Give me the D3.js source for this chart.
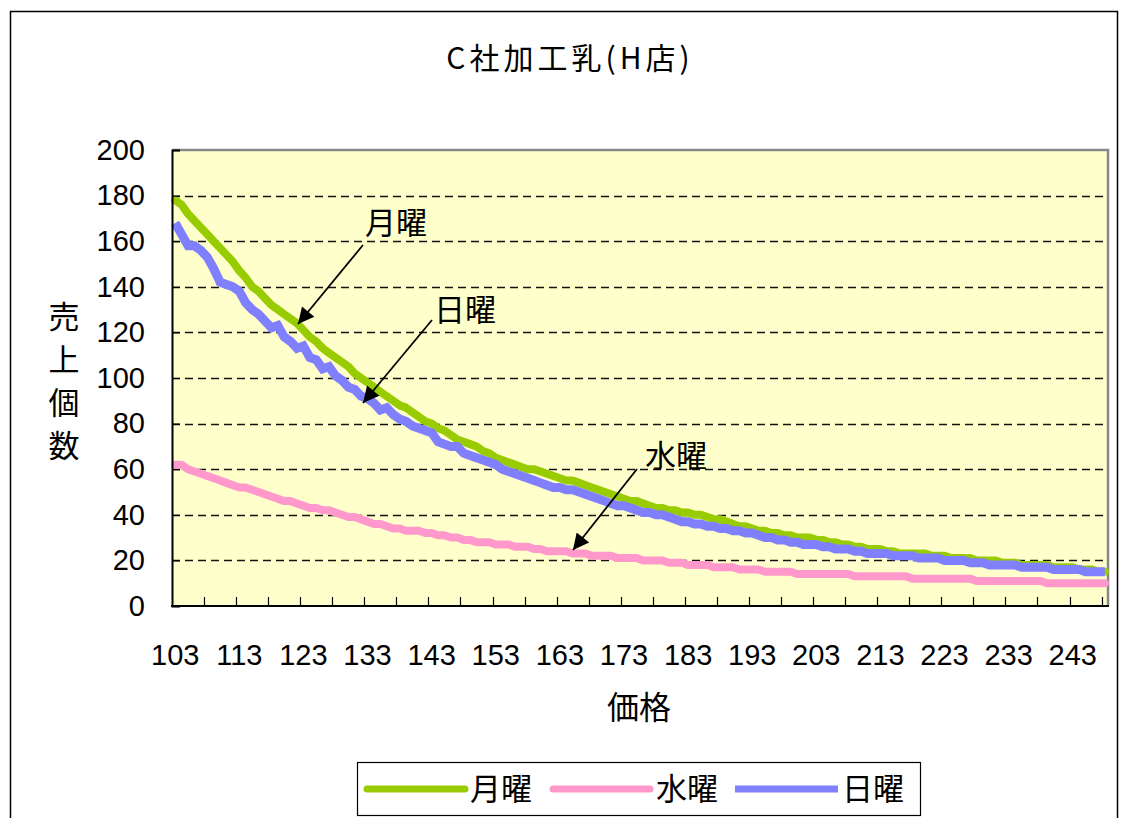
<!DOCTYPE html>
<html>
<head>
<meta charset="utf-8">
<script src="https://cdn.jsdelivr.net/npm/d3@7/dist/d3.min.js"></script>
<style>
  html, body { margin: 0; padding: 0; background: #fff; }
  svg { display: block; }
  text { font-family: "Liberation Sans", Arial, sans-serif; fill: #000; }
  .jp { font-family: "Noto Sans CJK JP", "Noto Sans CJK SC", sans-serif; }
</style>
</head>
<body>
<svg id="chart" width="1125" height="818"></svg>
<script>
// 価格 (yen), one category per price step
const prices = d3.range(103, 249);
const tickLabelPrices = [103, 113, 123, 133, 143, 153, 163, 173, 183, 193, 203, 213, 223, 233, 243];
const yTicks = [0, 20, 40, 60, 80, 100, 120, 140, 160, 180, 200];

// 売上個数 by weekday
const monday = [
  178,176,172,169,166,163,160,157,154,151,147,144,140,138,135,132,130,128,126,124,
  121,118,116,113,111,109,107,105,102,100,98,96,94,92,90,88,87,85,83,81,
  80,78,77,75,73,72,71,70,68,67,65,64,63,62,61,60,60,59,58,57,
  56,55,55,54,53,52,51,50,49,48,47,46,46,45,44,43,43,42,42,41,
  41,40,40,39,38,38,37,36,35,35,34,33,33,32,32,31,31,30,30,30,
  29,29,28,28,27,27,26,26,25,25,25,24,24,23,23,23,23,23,22,22,
  22,21,21,21,21,20,20,20,20,19,19,19,18,18,18,18,18,17,17,17,
  17,16,16,16,15,15
];
const wednesday = [
  62,62,60,59,58,57,56,55,54,53,52,52,51,50,49,48,47,46,46,45,
  44,43,43,42,42,41,40,39,39,38,37,36,36,35,34,34,33,33,33,32,
  32,31,31,30,30,29,29,28,28,28,27,27,27,26,26,26,25,25,24,24,
  24,24,23,23,23,22,22,22,22,21,21,21,21,20,20,20,20,19,19,19,
  18,18,18,18,17,17,17,17,16,16,16,16,15,15,15,15,15,14,14,14,
  14,14,14,14,14,14,13,13,13,13,13,13,13,13,13,12,12,12,12,12,
  12,12,12,12,12,11,11,11,11,11,11,11,11,11,11,11,10,10,10,10,
  10,10,10,10,10,10
];
const sunday = [
  168,163,158,158,156,153,148,142,141,140,138,133,130,128,125,122,123,118,116,113,
  114,109,108,104,105,101,99,96,95,92,91,89,86,87,84,82,81,79,78,77,
  76,72,71,70,70,67,66,65,64,63,62,60,59,58,57,56,55,54,53,52,
  52,51,51,50,49,48,47,46,45,44,44,43,42,41,41,40,40,39,38,37,
  37,36,36,35,35,34,34,33,33,32,32,31,30,30,29,29,28,28,27,27,
  27,26,26,25,25,25,24,24,23,23,23,23,22,22,22,22,21,21,21,21,
  20,20,20,20,19,19,19,18,18,18,18,18,17,17,17,17,17,16,16,16,
  16,16,15,15,15,15
];

const seriesList = [
  { name: "月曜", values: monday,    color: "#99CC00", width: 8 },
  { name: "水曜", values: wednesday, color: "#FF99CC", width: 8 },
  { name: "日曜", values: sunday,    color: "#8080FF", width: 9 }
];

const svg = d3.select("#chart");
const plot = { left: 172, top: 150, right: 1108, bottom: 606 };

// outer chart frame
svg.append("rect")
  .attr("x", 10.5).attr("y", 11.5)
  .attr("width", 1107).attr("height", 830)
  .attr("fill", "#fff").attr("stroke", "#000").attr("stroke-width", 1.5);

// title
svg.append("text").attr("class", "jp")
  .attr("x", 570).attr("y", 69)
  .attr("text-anchor", "middle")
  .attr("font-size", 30)
  .attr("letter-spacing", 4)
  .text("C社加工乳(H店)");

const x = d3.scaleBand().domain(prices).range([plot.left, plot.right]).padding(0);
const y = d3.scaleLinear().domain([0, 200]).range([plot.bottom, plot.top]);
const cx = p => x(p) + x.bandwidth() / 2;

// plot background
svg.append("rect")
  .attr("x", plot.left).attr("y", plot.top)
  .attr("width", plot.right - plot.left).attr("height", plot.bottom - plot.top)
  .attr("fill", "#FFFFCC");

// dashed gridlines
svg.append("g").selectAll("line")
  .data(yTicks.filter(v => v > 0 && v < 200))
  .join("line")
  .attr("x1", plot.left).attr("x2", plot.right)
  .attr("y1", d => Math.round(y(d)) + 0.5).attr("y2", d => Math.round(y(d)) + 0.5)
  .attr("stroke", "#111").attr("stroke-width", 1.3)
  .attr("stroke-dasharray", "8,5");

// plot border (top / right in gray)
svg.append("path")
  .attr("d", `M${plot.left},${plot.top}H${plot.right}V${plot.bottom}`)
  .attr("fill", "none").attr("stroke", "#888").attr("stroke-width", 2.5);

// series lines
const line = d3.line()
  .x((d, i) => cx(prices[i]))
  .y(d => y(d));

svg.append("g").selectAll("path")
  .data(seriesList)
  .join("path")
  .attr("d", s => line(s.values))
  .attr("fill", "none")
  .attr("stroke", s => s.color)
  .attr("stroke-width", s => s.width)
  .attr("stroke-linejoin", s => s.name === "日曜" ? "miter" : "round")
  .attr("stroke-linecap", s => s.name === "日曜" ? "butt" : "round");

// y axis
const yAxis = svg.append("g")
  .attr("transform", `translate(${plot.left},0)`)
  .call(d3.axisLeft(y).tickValues(yTicks).tickSize(-8).tickPadding(27));
yAxis.select(".domain").attr("stroke", "#000").attr("stroke-width", 2);
yAxis.selectAll(".tick line").attr("stroke", "#000").attr("stroke-width", 1.2);
yAxis.selectAll(".tick text")
  .attr("font-size", 29)
  .attr("font-family", "Liberation Sans, Arial, sans-serif")
  .attr("fill", "#000");

// x axis: labels every 10 categories, tick marks every 5
const xAxis = svg.append("g")
  .attr("transform", `translate(0,${plot.bottom})`)
  .call(d3.axisBottom(x).tickValues(tickLabelPrices).tickSize(0).tickPadding(38));
xAxis.select(".domain").remove();
xAxis.selectAll(".tick text")
  .attr("font-size", 29)
  .attr("font-family", "Liberation Sans, Arial, sans-serif")
  .attr("fill", "#000");

const tickBounds = prices.filter((p, i) => i % 5 === 0 && i > 0);
svg.append("g").selectAll("line")
  .data(tickBounds)
  .join("line")
  .attr("x1", d => Math.round(x(d)) + 0.5).attr("x2", d => Math.round(x(d)) + 0.5)
  .attr("y1", plot.bottom).attr("y2", plot.bottom - 9)
  .attr("stroke", "#000").attr("stroke-width", 1.2);

svg.append("line")
  .attr("x1", plot.left - 1).attr("x2", plot.right + 1)
  .attr("y1", plot.bottom).attr("y2", plot.bottom)
  .attr("stroke", "#000").attr("stroke-width", 2);

// axis titles
const yTitle = ["売", "上", "個", "数"];
svg.append("g").selectAll("text")
  .data(yTitle)
  .join("text")
  .attr("class", "jp")
  .attr("x", 64)
  .attr("y", (d, i) => 328 + i * 43)
  .attr("text-anchor", "middle")
  .attr("font-size", 31)
  .text(d => d);

svg.append("text").attr("class", "jp")
  .attr("x", 639).attr("y", 719)
  .attr("text-anchor", "middle")
  .attr("font-size", 32)
  .text("価格");

// callouts with arrows
const defs = svg.append("defs");
defs.append("marker")
  .attr("id", "arrowhead")
  .attr("viewBox", "0 0 10 10")
  .attr("refX", 10).attr("refY", 5)
  .attr("markerUnits", "userSpaceOnUse")
  .attr("markerWidth", 22).attr("markerHeight", 16)
  .attr("orient", "auto")
  .append("path").attr("d", "M0,0L10,5L0,10Z").attr("fill", "#000");

const callouts = [
  { text: "月曜", tx: 396, ty: 234, from: [363, 245], to: [298, 324] },
  { text: "日曜", tx: 465, ty: 321, from: [432, 320], to: [363, 403] },
  { text: "水曜", tx: 676, ty: 467, from: [637, 469], to: [573, 550] }
];
const cg = svg.append("g");
callouts.forEach(c => {
  cg.append("line")
    .attr("x1", c.from[0]).attr("y1", c.from[1])
    .attr("x2", c.to[0]).attr("y2", c.to[1])
    .attr("stroke", "#000").attr("stroke-width", 1.8)
    .attr("marker-end", "url(#arrowhead)");
  cg.append("text").attr("class", "jp")
    .attr("x", c.tx).attr("y", c.ty)
    .attr("text-anchor", "middle")
    .attr("font-size", 31)
    .text(c.text);
});

// legend
const legend = svg.append("g");
legend.append("rect")
  .attr("x", 357.5).attr("y", 762.5)
  .attr("width", 563).attr("height", 53)
  .attr("fill", "#fff").attr("stroke", "#000").attr("stroke-width", 1.2);
const legendItems = [
  { s: seriesList[0], x0: 367, x1: 465, tx: 470 },
  { s: seriesList[1], x0: 553, x1: 650, tx: 656 },
  { s: seriesList[2], x0: 735, x1: 838, tx: 842 }
];
legendItems.forEach(it => {
  legend.append("line")
    .attr("x1", it.x0).attr("x2", it.x1)
    .attr("y1", 789).attr("y2", 789)
    .attr("stroke", it.s.color).attr("stroke-width", 7)
    .attr("stroke-linecap", it.s.name === "日曜" ? "butt" : "round");
  legend.append("text").attr("class", "jp")
    .attr("x", it.tx).attr("y", 800)
    .attr("font-size", 31)
    .text(it.s.name);
});
</script>
</body>
</html>
